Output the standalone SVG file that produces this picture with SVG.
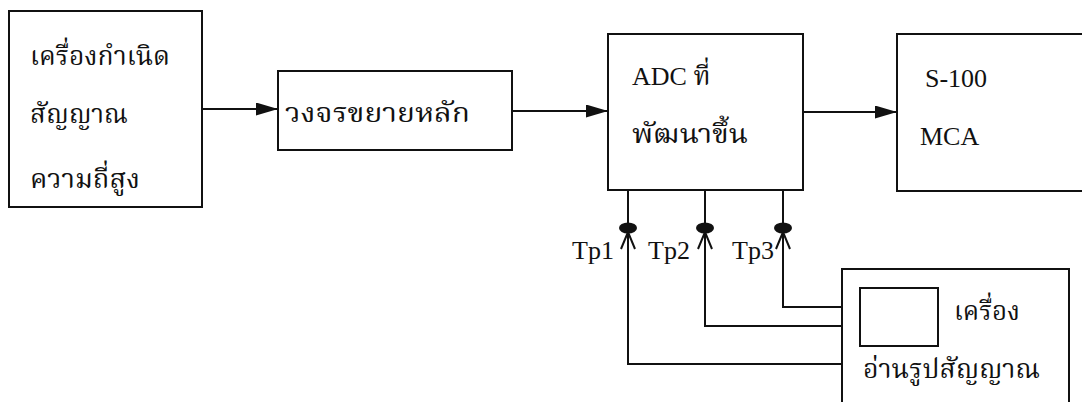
<svg xmlns="http://www.w3.org/2000/svg" width="1082" height="402" viewBox="0 0 1082 402">
  <defs>
    <style>
      .box { fill: none; stroke: #111; stroke-width: 2; }
      .wire { fill: none; stroke: #111; stroke-width: 2; }
      .lbl { font-family: "Liberation Serif", "Noto Serif Thai", "Noto Sans Thai", "DejaVu Serif", serif; font-size: 26px; fill: #111; }
      .th { font-size: 26px; }
      .probe { fill: #111; }
    </style>
    <marker id="solid" viewBox="0 0 22 13" refX="22" refY="6.5" markerWidth="22" markerHeight="13" markerUnits="userSpaceOnUse" orient="auto">
      <path d="M0,0 L22,6.5 L0,13 Z" fill="#111"/>
    </marker>
    <marker id="open" viewBox="0 0 18 20" refX="9" refY="1" markerWidth="18" markerHeight="20" markerUnits="userSpaceOnUse" orient="0">
      <path d="M2,18 L9,1 L16,18" fill="none" stroke="#111" stroke-width="2"/>
    </marker>
  </defs>
  <rect width="1082" height="402" fill="#fff"/>

  <g id="generator">
    <rect class="box" x="9" y="11" width="193" height="196"/>
    <text class="lbl th" x="30" y="65" textLength="140" lengthAdjust="spacingAndGlyphs">เครื่องกำเนิด</text>
    <text class="lbl th" x="30" y="123" textLength="98" lengthAdjust="spacingAndGlyphs">สัญญาณ</text>
    <text class="lbl th" x="30" y="188" textLength="110" lengthAdjust="spacingAndGlyphs">ความถี่สูง</text>
  </g>

  <g id="main-amp">
    <rect class="box" x="278" y="71" width="234" height="79"/>
    <text class="lbl th" x="285" y="122" textLength="185" lengthAdjust="spacingAndGlyphs">วงจรขยายหลัก</text>
  </g>

  <g id="adc">
    <rect class="box" x="608" y="34" width="195" height="156"/>
    <text class="lbl" x="632" y="85">ADC ที่</text>
    <text class="lbl th" x="632" y="143" textLength="116" lengthAdjust="spacingAndGlyphs">พัฒนาขึ้น</text>
  </g>

  <g id="mca">
    <path class="box" d="M1090,34 H897 V191 H1090"/>
    <text class="lbl" x="925" y="87">S-100</text>
    <text class="lbl" x="920" y="145">MCA</text>
  </g>

  <g id="scope">
    <path class="box" d="M842,410 V269 H1069 V410"/>
    <rect class="box" x="860" y="288" width="78" height="58"/>
    <text class="lbl th" x="954" y="320" textLength="66" lengthAdjust="spacingAndGlyphs">เครื่อง</text>
    <text class="lbl th" x="863" y="378" textLength="177" lengthAdjust="spacingAndGlyphs">อ่านรูปสัญญาณ</text>
  </g>

  <g id="connectors">
    <line class="wire" x1="202" y1="109" x2="278" y2="109" marker-end="url(#solid)"/>
    <line class="wire" x1="512" y1="111" x2="608" y2="111" marker-end="url(#solid)"/>
    <line class="wire" x1="803" y1="112" x2="897" y2="112" marker-end="url(#solid)"/>

    <!-- test-point taps below the ADC -->
    <line class="wire" x1="628" y1="190" x2="628" y2="226"/>
    <line class="wire" x1="705" y1="190" x2="705" y2="226"/>
    <line class="wire" x1="783" y1="190" x2="783" y2="226"/>
    <ellipse class="probe" cx="628" cy="228" rx="9" ry="5.5"/>
    <ellipse class="probe" cx="705" cy="228" rx="9" ry="5.5"/>
    <ellipse class="probe" cx="783" cy="228" rx="9" ry="5.5"/>

    <!-- probe leads from the scope -->
    <path class="wire" d="M842,364 H628 V232" marker-end="url(#open)"/>
    <path class="wire" d="M842,326 H705 V232" marker-end="url(#open)"/>
    <path class="wire" d="M842,307 H783 V232" marker-end="url(#open)"/>

    <text class="lbl" x="572" y="259">Tp1</text>
    <text class="lbl" x="648" y="259">Tp2</text>
    <text class="lbl" x="732" y="259">Tp3</text>
  </g>
</svg>
